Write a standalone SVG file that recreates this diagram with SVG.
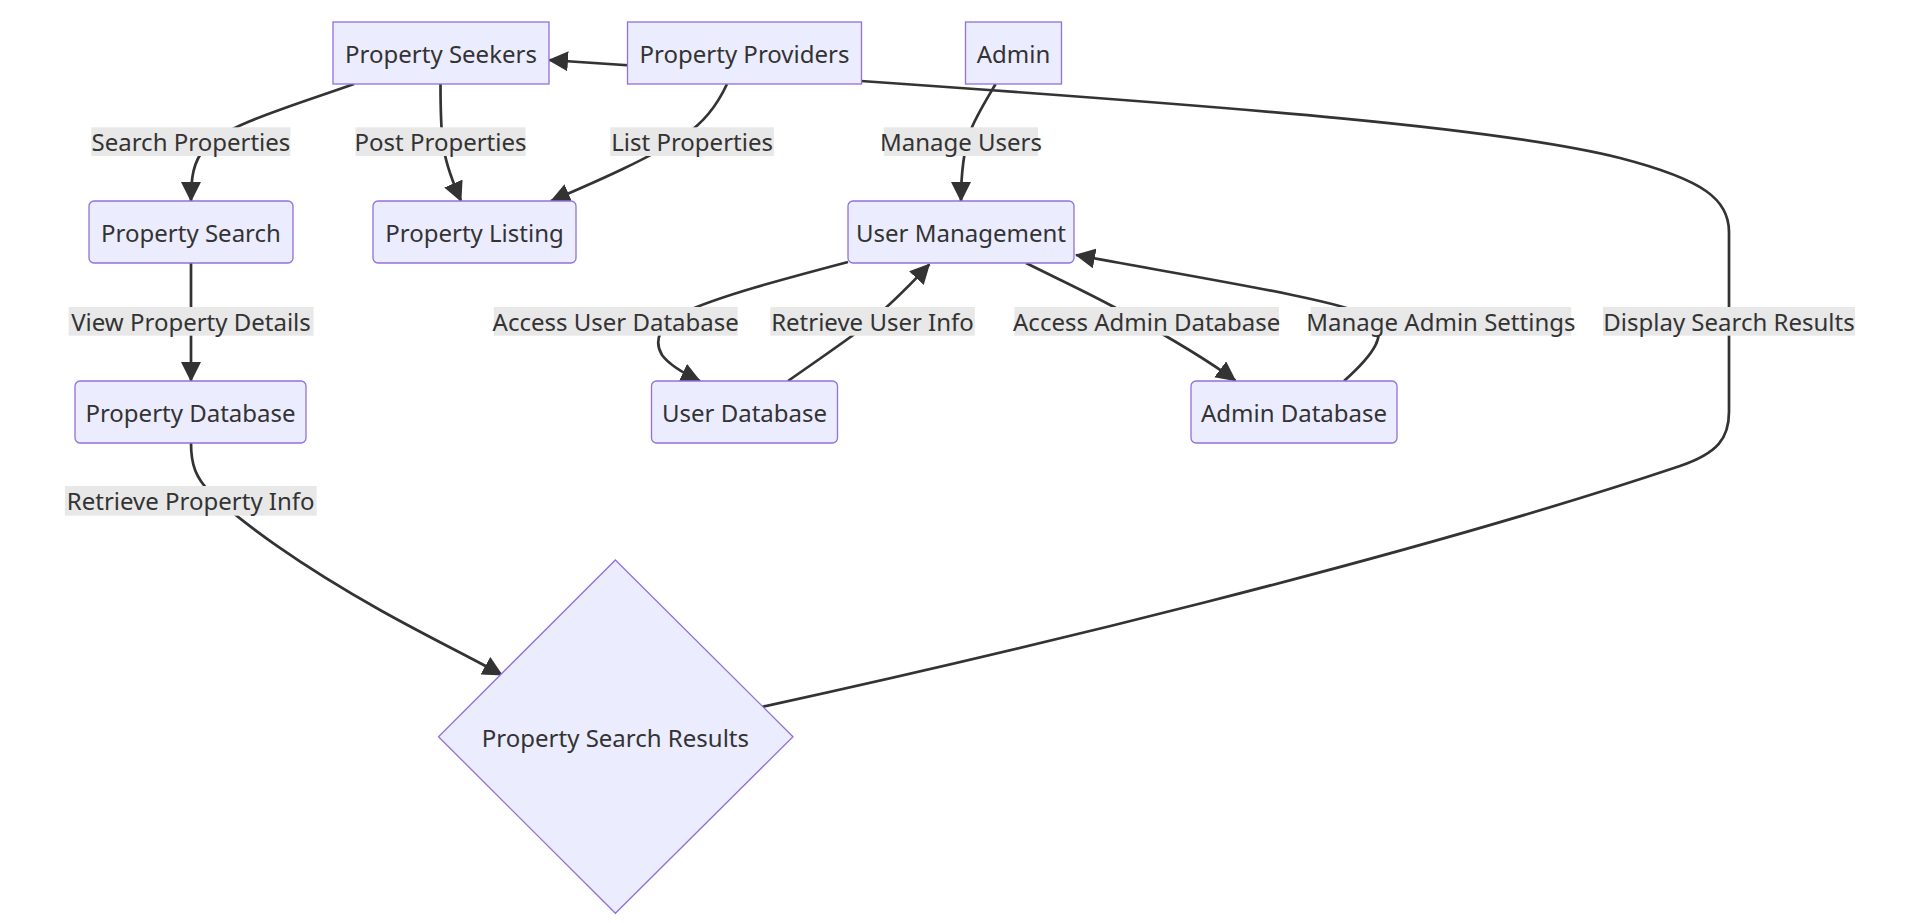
<svg xmlns="http://www.w3.org/2000/svg" width="1918" height="923" viewBox="0 0 1918 923">
<style>
  .node rect, .node polygon { fill: #ECECFF; stroke: #9370DB; stroke-width: 1.3; }
  .edge { fill: none; stroke: #333333; stroke-width: 2.7; }
  .lbl rect { fill: #e8e8e8; }
  text { font-family: "Noto Sans", "Open Sans", sans-serif; font-size: 24px; fill: #333333; text-anchor: middle; dominant-baseline: central; }
</style>
<defs>
  <marker id="arrow" viewBox="0 0 10 10" refX="9.5" refY="5" markerWidth="20" markerHeight="20" markerUnits="userSpaceOnUse" orient="auto">
    <path d="M0,0 L10,5 L0,10 z" fill="#333333"/>
  </marker>
</defs>
<rect x="0" y="0" width="1918" height="923" fill="#ffffff"/>

<g id="connectors">
  <path class="edge" marker-end="url(#arrow)" d="M354,84 C295,105 225,125 205,148 C193,162 191,178 191,201"/>
  <path class="edge" marker-end="url(#arrow)" d="M440.5,84 C440.5,115 441,135 444,150 C447,168 454,185 461,201"/>
  <path class="edge" marker-end="url(#arrow)" d="M727,84 C715,110 700,125 685,135 C650,158 600,180 551,201"/>
  <path class="edge" marker-end="url(#arrow)" d="M995.6,84 C985,102 975,118 970,132 C964,150 961,170 961,201"/>
  <path class="edge" marker-end="url(#arrow)" d="M191,263 L191,381"/>
  <path class="edge" marker-end="url(#arrow)" d="M848,262 C780,280 720,296 685,312 C660,324 653,340 662,355 C670,366 685,374 700,381"/>
  <path class="edge" marker-end="url(#arrow)" d="M788,381 C815,362 840,345 860,330 C885,310 910,285 929.4,264.3"/>
  <path class="edge" marker-end="url(#arrow)" d="M1026,263 C1060,280 1095,296 1125,313 C1165,335 1205,358 1235.4,380.7"/>
  <path class="edge" marker-end="url(#arrow)" d="M1344,381 C1372,356 1392,332 1368,316 C1340,300 1200,278 1076,255"/>
  <path class="edge" marker-end="url(#arrow)" d="M191,443 C191,465 196,478 210,492 C240,522 300,565 380,610 C430,638 470,657 502,675"/>
  <path class="edge" marker-end="url(#arrow)" d="M762,707 C1000,655 1400,560 1680,466 C1718,453 1729,438 1729,412 L1729,232 C1729,200 1705,180 1620,158 C1500,128 1250,108 861,81 L549,60"/>
</g>

<g id="edge-labels">
  <g class="lbl"><rect x="91.3" y="127.3" width="199.1" height="28.7"/><text x="190.9" y="141.7">Search Properties</text></g>
  <g class="lbl"><rect x="355.5" y="127.3" width="170.1" height="28.7"/><text x="440.5" y="141.7">Post Properties</text></g>
  <g class="lbl"><rect x="610.3" y="127.3" width="163.6" height="28.7"/><text x="692.1" y="141.7">List Properties</text></g>
  <g class="lbl"><rect x="884" y="127.3" width="154" height="28.7"/><text x="961" y="141.7">Manage Users</text></g>
  <g class="lbl"><rect x="68.6" y="307" width="244.9" height="28.7"/><text x="191" y="321.3">View Property Details</text></g>
  <g class="lbl"><rect x="493.8" y="307" width="243.8" height="28.7"/><text x="615.7" y="321.3">Access User Database</text></g>
  <g class="lbl"><rect x="770.3" y="307" width="204.5" height="28.7"/><text x="872.5" y="321.3">Retrieve User Info</text></g>
  <g class="lbl"><rect x="1014.4" y="307" width="264.6" height="28.7"/><text x="1146.7" y="321.3">Access Admin Database</text></g>
  <g class="lbl"><rect x="1310.6" y="307" width="260.6" height="28.7"/><text x="1440.9" y="321.3">Manage Admin Settings</text></g>
  <g class="lbl"><rect x="1603" y="307" width="252" height="28.7"/><text x="1729" y="321.3">Display Search Results</text></g>
  <g class="lbl"><rect x="64.9" y="486" width="251.7" height="29.7"/><text x="190.7" y="500.8">Retrieve Property Info</text></g>
</g>

<g id="node-seekers" class="node"><rect x="333" y="22" width="216" height="62"/><text x="441" y="53">Property Seekers</text></g>
<g id="node-providers" class="node"><rect x="627.5" y="22" width="234" height="62"/><text x="744.5" y="53">Property Providers</text></g>
<g id="node-admin" class="node"><rect x="965.5" y="22" width="96" height="62"/><text x="1013.5" y="53">Admin</text></g>
<g id="node-search" class="node"><rect x="89" y="201" width="204" height="62" rx="5"/><text x="191" y="232">Property Search</text></g>
<g id="node-listing" class="node"><rect x="373" y="201" width="203" height="62" rx="5"/><text x="474.5" y="232">Property Listing</text></g>
<g id="node-usermgmt" class="node"><rect x="848" y="201" width="226" height="62" rx="5"/><text x="961" y="232">User Management</text></g>
<g id="node-propdb" class="node"><rect x="75" y="381" width="231" height="62" rx="5"/><text x="190.5" y="412">Property Database</text></g>
<g id="node-userdb" class="node"><rect x="651.5" y="381" width="186" height="62" rx="5"/><text x="744.5" y="412">User Database</text></g>
<g id="node-admindb" class="node"><rect x="1191" y="381" width="206" height="62" rx="5"/><text x="1294" y="412">Admin Database</text></g>
<g id="node-results" class="node"><polygon points="615.4,560 793,736.7 615.4,913.3 438.5,736.7"/><text x="615.4" y="737">Property Search Results</text></g>
</svg>
